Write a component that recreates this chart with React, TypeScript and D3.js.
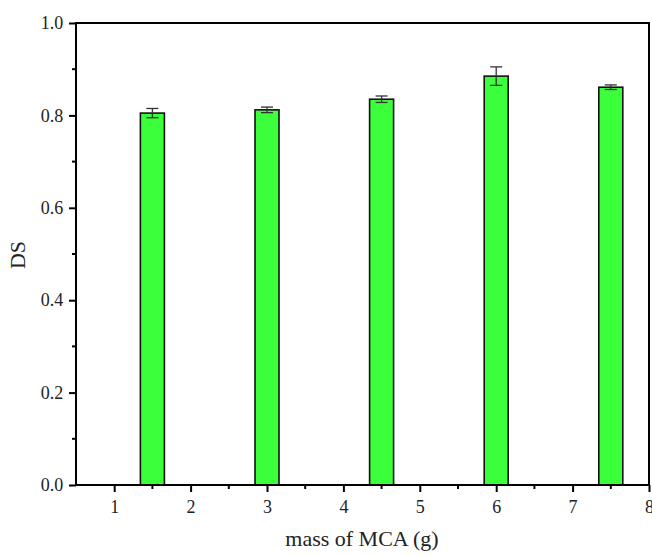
import React, { useEffect, useRef } from 'react';
import * as d3 from 'd3';

const masses = [1.5, 3, 4.5, 6, 7.5];
const dsValues = [0.805, 0.812, 0.835, 0.885, 0.861];
const dsErrors = [0.010, 0.006, 0.007, 0.020, 0.005];
const xTicks = [1, 2, 3, 4, 5, 6, 7, 8];
const yTicks = [0, 0.2, 0.4, 0.6, 0.8, 1.0];

const App = () => {
  const ref = useRef<SVGSVGElement>(null);

  useEffect(() => {
    const svg = d3.select(ref.current);
    svg.selectAll('*').remove();

    const left = 76, right = 649, top = 23, bottom = 485;
    const font = '"Liberation Serif", "Times New Roman", serif';

    const x = d3.scaleLinear().domain([0.5, 8]).range([left, right]);
    const y = d3.scaleLinear().domain([0, 1]).range([bottom, top]);
    const barW = 24;

    // bars
    svg.append('g')
      .selectAll('rect')
      .data(masses)
      .join('rect')
        .attr('x', d => x(d) - barW / 2)
        .attr('y', (d, i) => y(dsValues[i]))
        .attr('width', barW)
        .attr('height', (d, i) => bottom - y(dsValues[i]))
        .attr('fill', '#3cff3c')
        .attr('stroke', '#111')
        .attr('stroke-width', 1.6);

    // error bars
    const err = svg.append('g').attr('stroke', '#333').attr('stroke-width', 1.3);
    masses.forEach((m, i) => {
      const cx = x(m);
      const y1 = y(dsValues[i] + dsErrors[i]);
      const y2 = y(dsValues[i] - dsErrors[i]);
      err.append('line').attr('x1', cx).attr('x2', cx).attr('y1', y1).attr('y2', y2);
      err.append('line').attr('x1', cx - 6).attr('x2', cx + 6).attr('y1', y1).attr('y2', y1);
      err.append('line').attr('x1', cx - 6).attr('x2', cx + 6).attr('y1', y2).attr('y2', y2);
    });

    // frame
    svg.append('rect')
      .attr('x', left).attr('y', top)
      .attr('width', right - left).attr('height', bottom - top)
      .attr('fill', 'none').attr('stroke', '#000').attr('stroke-width', 2);

    // x axis
    const xAxis = svg.append('g').attr('transform', `translate(0,${bottom})`);
    xAxis.call(
      d3.axisBottom(x).tickValues(xTicks).tickSize(7).tickSizeOuter(0).tickFormat(d3.format('d'))
    );
    xAxis.append('g').selectAll('line')
      .data(d3.range(1.5, 8, 1))
      .join('line')
        .attr('x1', d => x(d)).attr('x2', d => x(d))
        .attr('y1', 0).attr('y2', 4)
        .attr('stroke', '#000').attr('stroke-width', 2);
    xAxis.select('.domain').remove();
    xAxis.selectAll('.tick line').attr('stroke-width', 2);
    xAxis.selectAll('.tick text')
      .attr('font-family', font).attr('font-size', 18).attr('fill', '#222').attr('dy', '1.0em');

    // y axis
    const yAxis = svg.append('g').attr('transform', `translate(${left},0)`);
    yAxis.call(
      d3.axisLeft(y).tickValues(yTicks).tickSize(7).tickSizeOuter(0).tickFormat(d3.format('.1f'))
    );
    yAxis.append('g').selectAll('line')
      .data([0.1, 0.3, 0.5, 0.7, 0.9])
      .join('line')
        .attr('x1', 0).attr('x2', -4)
        .attr('y1', d => y(d)).attr('y2', d => y(d))
        .attr('stroke', '#000').attr('stroke-width', 2);
    yAxis.select('.domain').remove();
    yAxis.selectAll('.tick line').attr('stroke-width', 2);
    yAxis.selectAll('.tick text')
      .attr('font-family', font).attr('font-size', 18).attr('fill', '#222').attr('dx', '-0.15em');

    // axis titles
    svg.append('text')
      .attr('x', 362)
      .attr('y', 546)
      .attr('text-anchor', 'middle')
      .attr('font-family', font).attr('font-size', 22).attr('fill', '#222')
      .text('mass of MCA (g)');

    svg.append('text')
      .attr('transform', `translate(25,255) rotate(-90)`)
      .attr('text-anchor', 'middle')
      .attr('font-family', font).attr('font-size', 22).attr('fill', '#222')
      .text('DS');
  }, []);

  return (
    <svg ref={ref} width={652} height={556}
      style={{ position: 'absolute', left: 0, top: 0, background: '#fff' }}></svg>
  );
};

export default App;
